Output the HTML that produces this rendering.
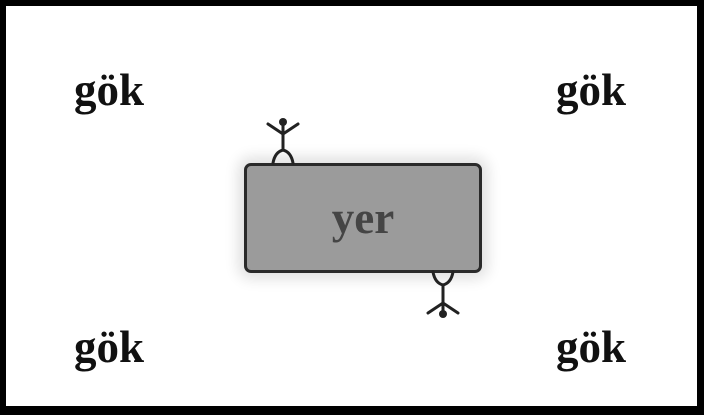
<!DOCTYPE html>
<html><head><style>
html,body{margin:0;padding:0;background:#000;}
.wrap{position:relative;width:704px;height:415px;background:#000;overflow:hidden;}
.inner{position:absolute;left:6px;top:6px;width:691px;height:400px;background:#fff;}
.t{position:absolute;font-family:"Liberation Serif",serif;font-weight:bold;font-size:45px;color:#111;line-height:1;}
.box{position:absolute;left:244px;top:163px;width:232px;height:104px;background:#9b9b9b;border:3px solid #2a2a2a;border-radius:7px;box-shadow:0 0 14px 6px #e0e0e0;}
.yer{position:absolute;left:0;right:0;top:30px;text-align:center;font-family:"Liberation Serif",serif;font-weight:bold;font-size:45px;color:#454545;line-height:1;}
</style></head><body>
<div class="wrap">
<div class="inner"></div>
<div class="t" style="left:74px;top:68px">gök</div>
<div class="t" style="left:556px;top:68px">gök</div>
<div class="t" style="left:74px;top:325px">gök</div>
<div class="t" style="left:556px;top:325px">gök</div>
<div class="box"><div class="yer">yer</div></div>
<svg width="704" height="415" style="position:absolute;left:0;top:0" >
<g stroke="#222" stroke-width="3" fill="none" stroke-linecap="round">
<line x1="283" y1="122" x2="283" y2="150"/>
<line x1="268" y1="124" x2="283" y2="134"/>
<line x1="298" y1="124" x2="283" y2="134"/>
<path d="M273 163 Q275 152 283 150 Q291 152 293 163"/>
<line x1="443" y1="313" x2="443" y2="285"/>
<line x1="428" y1="313" x2="443" y2="303"/>
<line x1="458" y1="313" x2="443" y2="303"/>
<path d="M433 272 Q435 283 443 285 Q451 283 453 272"/>
</g>
<circle cx="283" cy="122" r="4" fill="#222"/>
<circle cx="443" cy="314" r="4" fill="#222"/>
</svg>
</div>
</body></html>
